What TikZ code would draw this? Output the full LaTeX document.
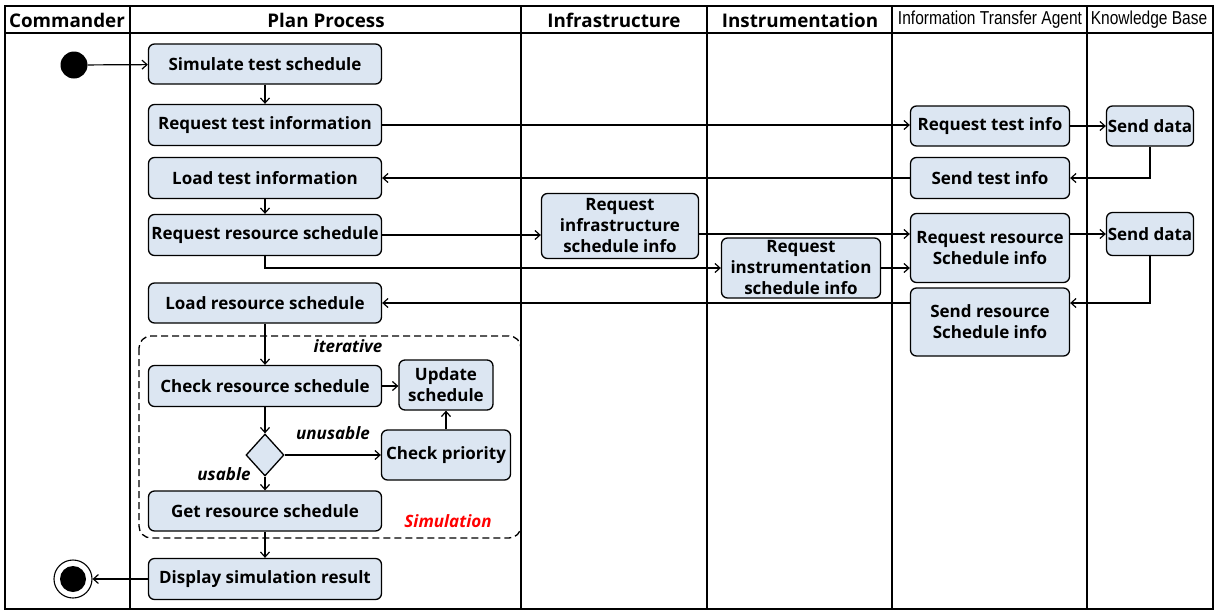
\documentclass[tikz,border=0pt]{standalone}
\usepackage{fontspec}
\setmainfont{Open Sans}
\newfontfamily\narrowfont[FakeStretch=0.83]{Liberation Sans}
\usetikzlibrary{arrows.meta,shapes.geometric}
\definecolor{boxblue}{HTML}{DCE6F2}
\tikzset{
  lane/.style={line width=1.3pt},
  abox/.style={draw, rounded corners=6pt, fill=boxblue, line width=1.3pt,
    align=center, inner sep=1pt, font=\fontsize{17}{21}\selectfont\bfseries},
  arr/.style={line width=1.2pt, -{Straight Barb[length=5pt,width=9pt,line width=1.2pt]}},
  head/.style={font=\fontsize{18.8}{22}\selectfont\bfseries},
  narrowhead/.style={font=\fontsize{18.7}{20}\selectfont\narrowfont},
  guard/.style={font=\fontsize{17}{20}\selectfont\bfseries\itshape},
}
\begin{document}
\begin{tikzpicture}[x=1pt,y=-1pt]
\useasboundingbox (0,0) rectangle (1220,611);
% swimlane frame
\draw[lane] (5,6) rectangle (1213,609);
\draw[lane] (5,33) -- (1213,33);
\foreach \xx in {130,521,707,1087}
  \draw[lane] (\xx,6) -- (\xx,609);
\draw[line width=2.4pt] (892,6) -- (892,609);
% lane titles
\node[head] (hcmd) at (67,20) {Commander};
\node[head] (hplan) at (326,20) {Plan Process};
\node[head] (hinfra) at (614,20) {Infrastructure};
\node[head] (hinstr) at (800,20) {Instrumentation};
\node[narrowhead] (hita) at (990,20) {Information Transfer Agent};
\node[narrowhead] (hkb) at (1149,20) {Knowledge Base};

% simulation region
\draw[line width=1.3pt, dashed, dash pattern=on 7pt off 4pt, rounded corners=12pt]
  (139,336) rectangle (521,538);
\node[guard] (iter) at (348,346) {iterative};
\node[guard, text=red] (simlbl) at (448,521) {Simulation};

% initial and final states
\node[circle, fill=black, minimum size=27pt, inner sep=0] (start) at (74,65) {};
\node[circle, draw, line width=1.1pt, minimum size=38pt, inner sep=0] (end) at (73,579) {};
\fill (end.center) circle (13pt);

% plan process activities
\node[abox, minimum width=233pt, minimum height=40pt] (sim) at (265,64) {Simulate test schedule};
\node[abox, minimum width=233pt, minimum height=41pt] (rti) at (265,125) {Request test information};
\node[abox, minimum width=233pt, minimum height=41pt] (lti) at (265,178) {Load test information};
\node[abox, minimum width=233pt, minimum height=41pt] (rrs) at (265,235) {Request resource schedule};
\node[abox, minimum width=233pt, minimum height=40pt] (lrs) at (265,303) {Load resource schedule};
\node[abox, minimum width=233pt, minimum height=41pt] (crs) at (265,386) {Check resource schedule};
\node[abox, minimum width=233pt, minimum height=40pt] (grs) at (265,511) {Get resource schedule};
\node[abox, minimum width=233pt, minimum height=41pt] (disp) at (265,579) {Display simulation result};
\node[abox, minimum width=94pt, minimum height=50pt] (upd) at (446,385) {Update\\schedule};
\node[abox, minimum width=129pt, minimum height=50pt] (cp) at (446,455) {Check priority};
\node[diamond, draw, fill=boxblue, line width=1.3pt, minimum width=38pt, minimum height=42pt, inner sep=0] (dec) at (265,455) {};
\node[guard] (unus) at (333,433) {unusable};
\node[guard] (us) at (224,474) {usable};

% infrastructure / instrumentation activities
\node[abox, minimum width=157pt, minimum height=65pt] (infra) at (620,226) {Request\\infrastructure\\schedule info};
\node[abox, minimum width=159pt, minimum height=60pt] (instr) at (801,268) {Request\\instrumentation\\schedule info};

% information transfer agent activities
\node[abox, minimum width=159pt, minimum height=40pt] (ita1) at (990,126) {Request test info};
\node[abox, minimum width=159pt, minimum height=41pt] (ita2) at (990,178) {Send test info};
\node[abox, minimum width=159pt, minimum height=69pt] (ita3) at (990,248) {Request resource\\Schedule info};
\node[abox, minimum width=159pt, minimum height=68pt] (ita4) at (990,322) {Send resource\\Schedule info};

% knowledge base activities
\node[abox, minimum width=87pt, minimum height=40pt] (kb1) at (1150,126) {Send data};
\node[abox, minimum width=87pt, minimum height=43pt] (kb2) at (1150,234) {Send data};

% control flow
\draw[arr] (start) -- (sim);
\draw[arr] (sim) -- (rti);
\draw[arr] (rti.east) -- (rti.east -| ita1.west);
\draw[arr] (ita1) -- (kb1);
\draw[arr] (kb1.south) |- (ita2.east);
\draw[arr] (ita2) -- (lti);
\draw[arr] (lti) -- (rrs);
\draw[arr] (rrs.east) -- (rrs.east -| infra.west);
\draw[arr] (rrs.south) |- (instr.west);
\draw[arr] (infra.east |- kb2) -- (ita3.west |- kb2);
\draw[arr] (instr.east) -- (instr.east -| ita3.west);
\draw[arr] (ita3.east |- kb2) -- (kb2.west);
\draw[arr] (kb2.south) |- (ita4.east |- lrs);
\draw[arr] (ita4.west |- lrs) -- (lrs.east);
\draw[arr] (lrs) -- (crs);
\draw[arr] (crs.east) -- (crs.east -| upd.west);
\draw[arr] (crs) -- (dec);
\draw[arr] (dec) -- (cp);
\draw[arr] (cp) -- (upd);
\draw[arr] (dec) -- (grs);
\draw[arr] (grs) -- (disp);
\draw[arr] (disp) -- (end);
\end{tikzpicture}
\end{document}
